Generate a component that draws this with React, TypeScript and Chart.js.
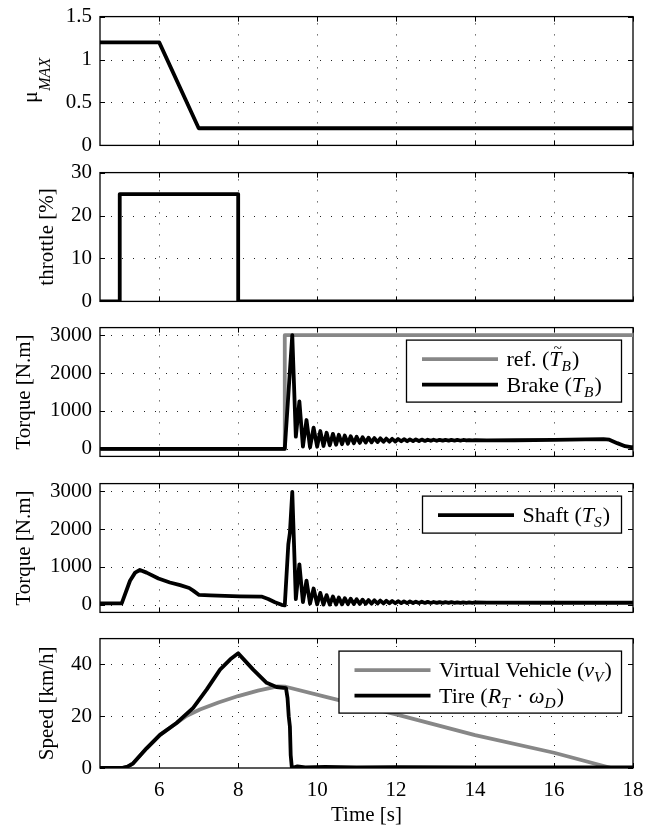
import React, { useEffect, useRef } from "react";
import { Chart, registerables } from "chart.js";

Chart.register(...registerables);

const FONT = "'Liberation Serif', 'Times New Roman', Times, serif";
const INK = "#000000";
const GREY = "#878787";
const LINE_W = 3.8;

// ---------------- data ----------------
const timeTicks = [6, 8, 10, 12, 14, 16, 18];
const muTicks = [0, 0.5, 1, 1.5];
const throttleTicks = [0, 10, 20, 30];
const torqueTicks = [0, 1000, 2000, 3000];
const speedTicks = [0, 20, 40];

type Pt = [number, number];

const muMax: Pt[] = [[4.5, 1.2], [6, 1.2], [7, 0.2], [18, 0.2]];

const throttle: Pt[] = [[4.5, 0], [5.0, 0], [5.0, 25], [8.0, 25], [8.0, 0], [18, 0]];

const brakeRef: Pt[] = [[4.5, 0], [9.18, 0], [9.18, 3000], [18, 3000]];

const brake: Pt[] = [
  [4.5, 0], [9.18, 0],
  [9.37, 3000], [9.46, 320], [9.55, 1250], [9.64, 60], [9.73, 760], [9.82, 40],
  [9.91, 560], [10.0, 55], [10.08, 470], [10.16, 75], [10.24, 425], [10.32, 92],
  [10.4, 395], [10.48, 108], [10.55, 370], [10.63, 122], [10.7, 350], [10.78, 135],
  [10.85, 333], [10.93, 146], [11.0, 318], [11.08, 156], [11.15, 305], [11.23, 165],
  [11.3, 294], [11.38, 172], [11.45, 284], [11.53, 179], [11.6, 276], [11.68, 185],
  [11.75, 269], [11.83, 190], [11.9, 263], [11.98, 194], [12.05, 258], [12.13, 198],
  [12.2, 254], [12.28, 201], [12.35, 250], [12.43, 204], [12.5, 247], [12.58, 207],
  [12.65, 244], [12.73, 209], [12.8, 242], [12.88, 211], [12.95, 240], [13.03, 213],
  [13.1, 238], [13.18, 215], [13.25, 236], [13.33, 216], [13.4, 235], [13.48, 218],
  [13.55, 234], [13.63, 219], [13.7, 233], [13.78, 220], [13.85, 232], [13.93, 221],
  [14.0, 231],
  [14.3, 224], [15.0, 226], [16.0, 236], [16.8, 250], [17.25, 258], [17.4, 240],
  [17.6, 150], [17.8, 70], [17.95, 45], [18, 42],
];

const shaft: Pt[] = [
  [4.5, 40], [5.05, 40], [5.26, 635], [5.39, 850], [5.51, 920], [5.68, 850],
  [5.98, 695], [6.27, 590], [6.53, 520], [6.76, 445], [6.86, 375], [7.01, 260],
  [7.29, 250], [8.04, 225], [8.59, 218], [8.76, 155], [8.93, 70], [9.1, 0],
  [9.18, -15], [9.27, 1600], [9.31, 1900],
  [9.37, 2980], [9.46, 150], [9.55, 1070], [9.64, 70], [9.73, 640], [9.82, 30],
  [9.91, 430], [10.0, 12], [10.08, 315], [10.16, 5], [10.24, 255], [10.32, 5],
  [10.4, 220], [10.48, 8], [10.55, 195], [10.63, 12], [10.7, 176], [10.78, 16],
  [10.85, 161], [10.93, 20], [11.0, 148], [11.08, 24], [11.15, 137], [11.23, 28],
  [11.3, 127], [11.38, 31], [11.45, 119], [11.53, 34], [11.6, 112], [11.68, 37],
  [11.75, 106], [11.83, 40], [11.9, 100], [11.98, 42], [12.05, 95], [12.13, 44],
  [12.2, 91], [12.28, 46], [12.35, 87], [12.43, 47], [12.5, 84], [12.58, 48],
  [12.65, 81], [12.73, 49], [12.8, 78], [12.88, 50], [12.95, 75], [13.03, 51],
  [13.1, 73], [13.18, 52], [13.25, 71], [13.33, 52], [13.4, 69], [13.48, 53],
  [13.55, 67], [13.63, 53], [13.7, 65], [13.78, 54], [13.85, 64], [13.93, 54],
  [14.0, 63],
  [14.3, 56], [16.0, 55], [18, 55],
];

const virtualSpeed: Pt[] = [
  [4.5, 0], [5.05, 0], [5.2, 0.5], [5.34, 1.8], [5.68, 7.6], [6.02, 12.8],
  [6.44, 17.4], [6.7, 20.2], [7.03, 22.6], [7.5, 25.3], [8.0, 27.8], [8.5, 29.9],
  [9.0, 31.5], [9.2, 31.4], [10.32, 27.1], [12.0, 20.7], [14.0, 12.7], [16.0, 5.9],
  [17.45, 0], [18, 0],
];

const tireSpeed: Pt[] = [
  [4.5, 0], [5.05, 0], [5.2, 0.5], [5.34, 1.8], [5.68, 7.6], [6.02, 12.8],
  [6.44, 17.4], [6.86, 23.2], [7.2, 30.3], [7.54, 38], [7.8, 42], [8.0, 44.3],
  [8.38, 38], [8.72, 32.9], [8.97, 31.3], [9.21, 30.9], [9.25, 27], [9.28, 20],
  [9.31, 16], [9.33, 5], [9.36, 0], [9.5, 0.6], [9.7, 0.2], [10.2, 0.4],
  [11, 0.2], [12, 0.3], [14, 0.2], [18, 0.2],
];

// ---------------- layout / styles ----------------
type Seg = { text: string; italic?: boolean; sub?: boolean; tilde?: boolean };
type LegendRow = { color: string; segs: Seg[] };
type Series = { points: Pt[]; color: string; order: number };

interface PanelSpec {
  key: string;
  areaTop: number;
  canvasH: number;
  padLeft: number;
  padBottom: number;
  yMin: number;
  yMax: number;
  yTicks: number[];
  yTitle?: string;
  muTitle?: boolean;
  showX: boolean;
  series: Series[];
  legend?: { width: number; rows: LegendRow[] };
}

const EXTRA = 20;

const PANELS: PanelSpec[] = [
  {
    key: "mu", areaTop: 16, canvasH: 170, padLeft: 30, padBottom: EXTRA,
    yMin: 0, yMax: 1.5, yTicks: muTicks, muTitle: true, showX: false,
    series: [{ points: muMax, color: INK, order: 0 }],
  },
  {
    key: "thr", areaTop: 172, canvasH: 170, padLeft: 34.4, padBottom: EXTRA,
    yMin: 0, yMax: 30, yTicks: throttleTicks, yTitle: "throttle [%]", showX: false,
    series: [{ points: throttle, color: INK, order: 0 }],
  },
  {
    key: "brk", areaTop: 327, canvasH: 170, padLeft: 11.4, padBottom: EXTRA,
    yMin: -200, yMax: 3200, yTicks: torqueTicks, yTitle: "Torque [N.m]", showX: false,
    series: [
      { points: brake, color: INK, order: 0 },
      { points: brakeRef, color: GREY, order: 1 },
    ],
    legend: {
      width: 215,
      rows: [
        { color: GREY, segs: [{ text: "ref. (" }, { text: "T", italic: true, tilde: true }, { text: "B", italic: true, sub: true }, { text: ")" }] },
        { color: INK, segs: [{ text: "Brake (" }, { text: "T", italic: true }, { text: "B", italic: true, sub: true }, { text: ")" }] },
      ],
    },
  },
  {
    key: "sh", areaTop: 483, canvasH: 170, padLeft: 11.4, padBottom: EXTRA,
    yMin: -200, yMax: 3200, yTicks: torqueTicks, yTitle: "Torque [N.m]", showX: false,
    series: [{ points: shaft, color: INK, order: 0 }],
    legend: {
      width: 199,
      rows: [
        { color: INK, segs: [{ text: "Shaft (" }, { text: "T", italic: true }, { text: "S", italic: true, sub: true }, { text: ")" }] },
      ],
    },
  },
  {
    key: "spd", areaTop: 638, canvasH: 212, padLeft: 34.4, padBottom: 2,
    yMin: 0, yMax: 50, yTicks: speedTicks, yTitle: "Speed [km/h]", showX: true,
    series: [
      { points: tireSpeed, color: INK, order: 0 },
      { points: virtualSpeed, color: GREY, order: 1 },
    ],
    legend: {
      width: 282.5,
      rows: [
        { color: GREY, segs: [{ text: "Virtual Vehicle (" }, { text: "v", italic: true }, { text: "V", italic: true, sub: true }, { text: ")" }] },
        { color: INK, segs: [{ text: "Tire (" }, { text: "R", italic: true }, { text: "T", italic: true, sub: true }, { text: " · " }, { text: "ω", italic: true }, { text: "D", italic: true, sub: true }, { text: ")" }] },
      ],
    },
  },
];

const LEG_SIZE = 22;

function drawRich(ctx: CanvasRenderingContext2D, x: number, y: number, segs: Seg[], size: number) {
  let cx = x;
  ctx.textAlign = "left";
  ctx.textBaseline = "alphabetic";
  for (const s of segs) {
    const fs = s.sub ? size * 0.7 : size;
    ctx.font = `${s.italic ? "italic " : ""}${fs}px ${FONT}`;
    const dy = s.sub ? size * 0.24 : 0;
    ctx.fillText(s.text, cx, y + dy);
    const w = ctx.measureText(s.text).width;
    if (s.tilde) {
      ctx.save();
      ctx.font = `${size * 0.7}px ${FONT}`;
      ctx.textAlign = "center";
      ctx.fillText("~", cx + w / 2 + size * 0.1, y - size * 0.58);
      ctx.restore();
      ctx.font = `${s.italic ? "italic " : ""}${fs}px ${FONT}`;
    }
    cx += w + (s.sub ? 1 : 0);
  }
}

function makeOverlay(spec: PanelSpec) {
  return {
    id: "matlabAxes",
    beforeDatasetsDraw(chart: any) {
      const { ctx, chartArea: a } = chart;
      const xs = chart.scales.x;
      const ys = chart.scales.y;
      ctx.save();
      // dotted grid
      ctx.lineWidth = 1;
      ctx.strokeStyle = "#222222";
      ctx.setLineDash([1, 10]);
      for (const v of timeTicks) {
        const px = Math.round(xs.getPixelForValue(v)) + 0.5;
        if (px <= a.left + 1 || px >= a.right - 1) continue;
        ctx.beginPath();
        ctx.moveTo(px, a.bottom);
        ctx.lineTo(px, a.top);
        ctx.stroke();
      }
      for (const v of spec.yTicks) {
        const py = Math.round(ys.getPixelForValue(v)) + 0.5;
        if (py <= a.top + 1 || py >= a.bottom - 1) continue;
        ctx.beginPath();
        ctx.moveTo(a.left, py);
        ctx.lineTo(a.right, py);
        ctx.stroke();
      }
      ctx.setLineDash([]);
      // inward ticks on all sides
      const tl = 5;
      ctx.strokeStyle = INK;
      ctx.beginPath();
      for (const v of timeTicks) {
        const px = Math.round(xs.getPixelForValue(v)) + 0.5;
        ctx.moveTo(px, a.bottom);
        ctx.lineTo(px, a.bottom - tl);
        ctx.moveTo(px, a.top);
        ctx.lineTo(px, a.top + tl);
      }
      for (const v of spec.yTicks) {
        const py = Math.round(ys.getPixelForValue(v)) + 0.5;
        ctx.moveTo(a.left, py);
        ctx.lineTo(a.left + tl, py);
        ctx.moveTo(a.right, py);
        ctx.lineTo(a.right - tl, py);
      }
      ctx.stroke();
      // box
      ctx.lineWidth = 1.3;
      ctx.strokeRect(a.left, a.top, a.right - a.left, a.bottom - a.top);
      ctx.restore();
    },
    afterDraw(chart: any) {
      const { ctx, chartArea: a } = chart;
      ctx.save();
      ctx.fillStyle = INK;
      if (spec.legend) {
        const lg = spec.legend;
        const n = lg.rows.length;
        const h = 37 + 25 * (n - 1);
        const right = a.right - 11.5;
        const left = right - lg.width;
        const top = a.top + 12.5;
        ctx.fillStyle = "#ffffff";
        ctx.fillRect(left, top, lg.width, h);
        ctx.strokeStyle = INK;
        ctx.lineWidth = 1.3;
        ctx.strokeRect(left, top, lg.width, h);
        lg.rows.forEach((row, i) => {
          const cy = top + 19 + 25.5 * i;
          ctx.strokeStyle = row.color;
          ctx.lineWidth = LINE_W;
          ctx.beginPath();
          ctx.moveTo(left + 15.5, cy);
          ctx.lineTo(left + 15.5 + 76, cy);
          ctx.stroke();
          ctx.fillStyle = INK;
          drawRich(ctx, left + 15.5 + 76 + 8.5, cy + 7, row.segs, LEG_SIZE);
        });
      }
      if (spec.muTitle) {
        const canvasTop = spec.areaTop - EXTRA;
        ctx.translate(37, 103 - canvasTop);
        ctx.rotate(-Math.PI / 2);
        ctx.fillStyle = INK;
        ctx.textAlign = "left";
        ctx.textBaseline = "alphabetic";
        ctx.font = `22px ${FONT}`;
        ctx.fillText("μ", 0, 0);
        const w = ctx.measureText("μ").width;
        ctx.font = `italic 16px ${FONT}`;
        ctx.fillText("MAX", w + 0.5, 13);
      }
      ctx.restore();
    },
  };
}

const tickFont = { family: FONT, size: 21 };

function buildChart(canvas: HTMLCanvasElement, spec: PanelSpec) {
  const xScale: any = {
    type: "linear",
    min: 4.5,
    max: 18,
    display: spec.showX,
    afterBuildTicks: (s: any) => {
      s.ticks = timeTicks.map((v) => ({ value: v }));
    },
    grid: { display: false, drawTicks: false },
    border: { display: false },
    ticks: {
      font: tickFont,
      color: INK,
      padding: 9.5,
      maxRotation: 0,
      autoSkip: false,
      callback: (v: any) => String(v),
    },
    title: {
      display: spec.showX,
      text: "Time [s]",
      font: tickFont,
      color: INK,
      padding: 0,
    },
  };
  if (spec.showX) {
    xScale.afterFit = (s: any) => {
      s.height = 60;
    };
  }
  return new Chart(canvas, {
    type: "line",
    data: {
      datasets: spec.series.map((s) => ({
        data: s.points.map(([x, y]) => ({ x, y })),
        borderColor: s.color,
        backgroundColor: s.color,
        borderWidth: LINE_W,
        pointRadius: 0,
        tension: 0,
        fill: false,
        order: s.order,
        borderJoinStyle: "round",
      })),
    } as any,
    options: {
      responsive: false,
      animation: false,
      devicePixelRatio: 1,
      events: [],
      layout: {
        padding: { left: spec.padLeft, right: 25, top: EXTRA, bottom: spec.padBottom },
      },
      plugins: {
        legend: { display: false },
        tooltip: { enabled: false },
      },
      scales: {
        x: xScale,
        y: {
          type: "linear",
          min: spec.yMin,
          max: spec.yMax,
          afterBuildTicks: (s: any) => {
            s.ticks = spec.yTicks.map((v) => ({ value: v }));
          },
          afterFit: (s: any) => {
            s.width = 100 - spec.padLeft;
          },
          grid: { display: false, drawTicks: false },
          border: { display: false },
          ticks: {
            font: tickFont,
            color: INK,
            padding: 8,
            autoSkip: false,
            callback: (v: any) => String(v),
          },
          title: {
            display: !!spec.yTitle,
            text: spec.yTitle || "",
            font: tickFont,
            color: INK,
            padding: 0,
          },
        },
      },
    } as any,
    plugins: [makeOverlay(spec) as any],
  });
}

export default function App() {
  const refs = useRef<(HTMLCanvasElement | null)[]>([]);

  useEffect(() => {
    const charts = PANELS.map((spec, i) => buildChart(refs.current[i] as HTMLCanvasElement, spec));
    return () => {
      charts.forEach((c) => c.destroy());
    };
  }, []);

  return (
    <div style={{ position: "absolute", left: 0, top: 0, width: 658, height: 830, background: "#ffffff" }}>
      {PANELS.map((spec, i) => (
        <canvas
          key={spec.key}
          ref={(el) => {
            refs.current[i] = el;
          }}
          width={658}
          height={spec.canvasH}
          style={{
            position: "absolute",
            left: 0,
            top: spec.areaTop - EXTRA,
            width: 658,
            height: spec.canvasH,
          }}
        />
      ))}
    </div>
  );
}
